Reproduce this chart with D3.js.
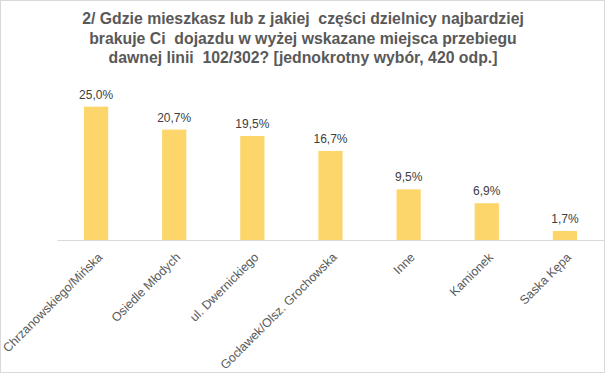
<!DOCTYPE html>
<html>
<head>
<meta charset="utf-8">
<script src="https://cdn.jsdelivr.net/npm/d3@7"></script>
<style>
  body { margin: 0; background: #fff; }
  text { font-family: "Liberation Sans", Arial, sans-serif; }
</style>
</head>
<body>
<div id="chart"></div>
<script>
var categories = ["Chrzanowskiego/Mińska", "Osiedle Młodych", "ul. Dwernickiego",
    "Gocławek/Olsz. Grochowska", "Inne", "Kamionek", "Saska Kępa"];
var values = [25.0, 20.7, 19.5, 16.7, 9.5, 6.9, 1.7];
var titleLines = [
    "2/ Gdzie mieszkasz lub z jakiej  części dzielnicy najbardziej",
    "brakuje Ci  dojazdu w wyżej wskazane miejsca przebiegu",
    "dawnej linii  102/302? [jednokrotny wybór, 420 odp.]"
];

var width = 605, height = 373;

var svg = d3.select("#chart")
    .append("svg")
    .attr("width", width)
    .attr("height", height);

// outer border
svg.append("rect")
    .attr("x", 0.5).attr("y", 0.5)
    .attr("width", width - 1).attr("height", height - 1)
    .attr("fill", "#fff")
    .attr("stroke", "#d9d9d9");

svg.append("text")
    .attr("text-anchor", "middle")
    .attr("font-size", 15.8)
    .attr("font-weight", "bold")
    .attr("fill", "#595959")
    .style("white-space", "pre")
    .selectAll("tspan")
    .data(titleLines)
    .enter().append("tspan")
    .attr("x", 303)
    .attr("y", function(d, i) { return 24 + i * 19.5; })
    .text(function(d) { return d; });

var x = d3.scaleBand()
    .domain(categories)
    .range([57, 604])
    .paddingInner(0.69)
    .paddingOuter(0.345);

var y = d3.scaleLinear()
    .domain([0, 30])
    .range([240, 80]);

svg.selectAll(".bar")
    .data(values)
    .enter().append("rect")
    .attr("class", "bar")
    .attr("x", function(d, i) { return x(categories[i]); })
    .attr("y", function(d) { return y(d); })
    .attr("width", x.bandwidth())
    .attr("height", function(d) { return y(0) - y(d); })
    .attr("fill", "#fdd66b");

svg.selectAll(".val")
    .data(values)
    .enter().append("text")
    .attr("class", "val")
    .attr("x", function(d, i) { return x(categories[i]) + x.bandwidth() / 2; })
    .attr("y", function(d) { return y(d) - 8; })
    .attr("text-anchor", "middle")
    .attr("font-size", 12)
    .attr("fill", "#404040")
    .text(function(d) { return d.toFixed(1).replace(".", ",") + "%"; });

var axis = svg.append("g")
    .attr("transform", "translate(0," + y(0) + ")")
    .call(d3.axisBottom(x).tickSize(0).tickSizeOuter(0));

axis.select(".domain").attr("stroke", "#d9d9d9");
axis.selectAll(".tick text")
    .attr("font-family", "Liberation Sans, Arial, sans-serif")
    .attr("font-size", 12.4)
    .attr("fill", "#595959")
    .attr("text-anchor", "end")
    .attr("x", 0).attr("y", 0).attr("dy", 0)
    .attr("transform", "translate(7,18) rotate(-45)");
</script>
</body>
</html>
